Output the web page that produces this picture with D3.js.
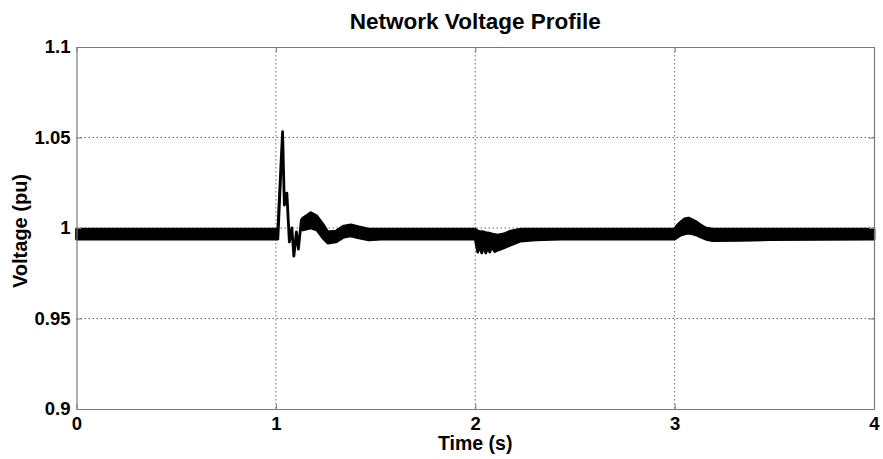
<!DOCTYPE html>
<html>
<head>
<meta charset="utf-8">
<script src="https://cdn.jsdelivr.net/npm/d3@7"></script>
<style>
  html, body { margin: 0; padding: 0; background: #fff; }
  svg { display: block; font-family: "Liberation Sans", Arial, sans-serif; }
</style>
</head>
<body>
<svg id="chart" width="883" height="459"></svg>
<script>
// ---- data ----
const title = "Network Voltage Profile";
const xLabel = "Time (s)";
const yLabel = "Voltage (pu)";
const xTicks = [0, 1, 2, 3, 4];
const yTicks = [0.9, 0.95, 1, 1.05, 1.1];
const yTickLabels = ["0.9", "0.95", "1", "1.05", "1.1"];

// time (s) and the upper / lower envelope of the voltage trace (pu)
const time = [0, 1.0, 1.010, 1.0336, 1.0426, 1.0551, 1.0677, 1.0802, 1.0902, 1.1028, 1.1128, 1.1278,
  1.1353, 1.1754, 1.2055, 1.2356, 1.2607, 1.3008, 1.3409, 1.3759, 1.4160, 1.4662, 1.5263,
  2.0, 2.0125, 2.0226, 2.0326, 2.0426, 2.0526, 2.0627, 2.0727, 2.0827, 2.0977, 2.1128, 2.1429, 2.1779, 2.2281, 2.3033, 2.4286,
  3.0, 3.0150, 3.0301, 3.0501, 3.0702, 3.0902, 3.1103, 3.1303, 3.1554, 3.1905, 3.3308, 3.4812, 4.0];
const vUpper = [0.9994, 0.9994, 0.9994, 1.0532, 1.0127, 1.0193, 0.9923, 1.0000, 0.9845, 0.9978, 0.9884, 1.0044,
  1.0055, 1.0085, 1.0066, 1.0022, 0.9978, 0.9983, 1.0011, 1.0017, 1.0006, 0.9994, 0.9994,
  0.9994, 0.9983, 0.9980, 0.9980, 0.9978, 0.9975, 0.9973, 0.9970, 0.9967, 0.9964, 0.9961, 0.9967, 0.9983, 0.9994, 0.9994, 0.9994,
  0.9994, 1.0017, 1.0033, 1.0050, 1.0055, 1.0044, 1.0033, 1.0017, 1.0000, 0.9994, 0.9994, 0.9994, 0.9994];
const vLower = [0.9939, 0.9939, 0.9939, 1.0532, 1.0127, 1.0193, 0.9923, 1.0000, 0.9845, 0.9978, 0.9884, 1.0044,
  0.9989, 1.0000, 0.9989, 0.9945, 0.9917, 0.9923, 0.9950, 0.9956, 0.9945, 0.9934, 0.9939,
  0.9939, 0.9867, 0.9906, 0.9862, 0.9901, 0.9862, 0.9895, 0.9867, 0.9895, 0.9870, 0.9878, 0.9890, 0.9906, 0.9928, 0.9934, 0.9939,
  0.9939, 0.9950, 0.9961, 0.9967, 0.9972, 0.9967, 0.9961, 0.9950, 0.9939, 0.9930, 0.9932, 0.9936, 0.9939];

// ---- layout ----
const W = 883, H = 459;
const margin = { left: 76.5, right: 9, top: 47, bottom: 50 };
const pw = W - margin.left - margin.right;
const ph = H - margin.top - margin.bottom;

const svg = d3.select("#chart");
const g = svg.append("g").attr("transform", `translate(${margin.left},${margin.top})`);

const x = d3.scaleLinear().domain([0, 4]).range([0, pw]);
const y = d3.scaleLinear().domain([0.9, 1.1]).range([ph, 0]);

// grid lines
g.append("g").selectAll("line.vg").data(xTicks.slice(1, -1)).join("line")
  .attr("x1", d => x(d)).attr("x2", d => x(d)).attr("y1", 0).attr("y2", ph)
  .attr("stroke", "#444").attr("stroke-width", 0.8).attr("stroke-dasharray", "1.5,2.5");
g.append("g").selectAll("line.hg").data(yTicks.slice(1, -1)).join("line")
  .attr("x1", 0).attr("x2", pw).attr("y1", d => y(d)).attr("y2", d => y(d))
  .attr("stroke", "#444").attr("stroke-width", 0.8).attr("stroke-dasharray", "1.5,2.5");

// data trace
const data = time.map((t, i) => ({ t, hi: vUpper[i], lo: vLower[i] }));
const area = d3.area().x(d => x(d.t)).y0(d => y(d.lo)).y1(d => y(d.hi));
g.append("path").datum(data).attr("d", area)
  .attr("fill", "#000").attr("stroke", "#000").attr("stroke-width", 2.8)
  .attr("stroke-linejoin", "round");

// axes (MATLAB style box with inward ticks)
const axColor = "#7a7a7a";
const xAxisB = d3.axisBottom(x).tickValues(xTicks).tickSizeInner(-5).tickSizeOuter(0).tickPadding(7.5).tickFormat(d3.format("d"));
const xAxisT = d3.axisTop(x).tickValues(xTicks).tickSizeInner(-5).tickSizeOuter(0).tickFormat("");
const yAxisL = d3.axisLeft(y).tickValues(yTicks).tickSizeInner(-5).tickSizeOuter(0).tickPadding(6)
  .tickFormat((d, i) => yTickLabels[i]);
const yAxisR = d3.axisRight(y).tickValues(yTicks).tickSizeInner(-5).tickSizeOuter(0).tickFormat("");

function styleAxis(sel) {
  sel.select(".domain").attr("stroke", axColor).attr("stroke-width", 1.2);
  sel.selectAll(".tick line").attr("stroke", axColor);
  sel.selectAll(".tick text").attr("fill", "#000").attr("font-size", 18.5).attr("font-weight", "bold")
    .attr("font-family", "'Liberation Sans', Arial, sans-serif");
}
g.append("g").attr("transform", `translate(0,${ph})`).call(xAxisB).call(styleAxis);
g.append("g").call(xAxisT).call(styleAxis);
g.append("g").call(yAxisL).call(styleAxis);
g.append("g").attr("transform", `translate(${pw},0)`).call(yAxisR).call(styleAxis);

// titles
svg.append("text").attr("x", margin.left + pw / 2).attr("y", 29)
  .attr("text-anchor", "middle").attr("font-size", 22.5).attr("font-weight", "bold").text(title);
svg.append("text").attr("x", margin.left + pw / 2).attr("y", 450)
  .attr("text-anchor", "middle").attr("font-size", 19.5).attr("font-weight", "bold").text(xLabel);
svg.append("text").attr("transform", `translate(27,${margin.top + ph / 2 + 3}) rotate(-90)`)
  .attr("text-anchor", "middle").attr("font-size", 20).attr("font-weight", "bold").text(yLabel);
</script>
</body>
</html>
